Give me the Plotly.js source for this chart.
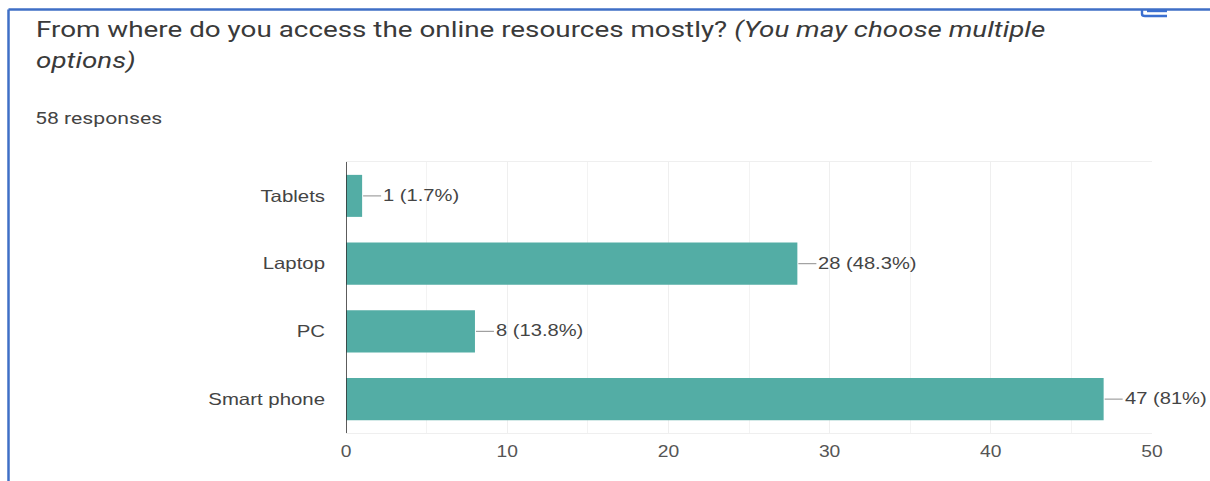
<!DOCTYPE html>
<html>
<head>
<meta charset="utf-8">
<script src="https://cdn.plot.ly/plotly-3.0.1.min.js"></script>
<style>
html,body{margin:0;padding:0;background:#fff;overflow:hidden}
#chart{width:1210px;height:481px}
/* Wide setting for the heading */
#chart .gtitle{transform:scaleX(1.265);transform-origin:36px 0}
</style>
</head>
<body>
<div id="chart"></div>
<script>
// Survey answers, listed bottom to top on the category axis
const devices = ['Smart phone', 'PC', 'Laptop', 'Tablets'];
const responses = [47, 8, 28, 1];
const valueLabels = ['47 (81%)', '8 (13.8%)', '28 (48.3%)', '1 (1.7%)'];
const axisTicks = [0, 10, 20, 30, 40, 50];

const W = 1210, H = 481;
const margin = {l: 346, r: 58, t: 162, b: 48};
const frameBlue = '#3f6fc6';
const textGrey = '#444444';
const labelFont = {family: 'Liberation Sans, Arial, sans-serif', size: 16.5, color: textGrey};

// Page-pixel helpers for the card frame, which sits outside the plot area
const px = x => (x - margin.l) / (W - margin.l - margin.r);
const py = y => 1 - (y - margin.t) / (H - margin.t - margin.b);

const bars = {
  type: 'bar',
  orientation: 'h',
  y: devices,
  x: responses,
  width: 0.62,
  marker: {color: '#53ada5', line: {width: 0}},
  hoverinfo: 'skip',
  cliponaxis: false
};

// Short leader from each bar end towards its value label
const leaders = responses.map((v, i) => ({
  type: 'line', xref: 'x', yref: 'y',
  xsizemode: 'pixel', xanchor: v, x0: 1, x1: 19,
  y0: devices[i], y1: devices[i],
  line: {color: '#a0a0a0', width: 1.2}
}));

const frame = [
  {type: 'line', xref: 'paper', yref: 'paper', x0: px(8.5), x1: px(W), y0: py(9.5), y1: py(9.5), line: {color: frameBlue, width: 2.5}},
  {type: 'line', xref: 'paper', yref: 'paper', x0: px(8.5), x1: px(8.5), y0: py(9.5), y1: py(H), line: {color: frameBlue, width: 2.5}},
  // Bottom of the cropped copy-chart icon
  {type: 'path', xref: 'paper', yref: 'paper',
   path: `M ${px(1142)} ${py(10)} L ${px(1142)} ${py(14)} Q ${px(1142)} ${py(16)} ${px(1145)} ${py(16)} L ${px(1167)} ${py(16)}`,
   line: {color: '#3b6fd0', width: 2.4}},
  {type: 'line', xref: 'paper', yref: 'paper', x0: px(1147), x1: px(1167), y0: py(11), y1: py(11), line: {color: '#3b6fd0', width: 2.4}}
];

const valueNotes = responses.map((v, i) => ({
  x: v, y: devices[i], xref: 'x', yref: 'y',
  text: valueLabels[i], showarrow: false,
  xanchor: 'left', yanchor: 'middle', xshift: 19, yshift: 1,
  font: labelFont
}));

const layout = {
  width: W, height: H,
  margin: margin,
  paper_bgcolor: '#ffffff',
  plot_bgcolor: '#ffffff',
  showlegend: false,
  bargap: 0.38,
  title: {
    text: 'From where do you access the online resources mostly? <i>(You may choose multiple<br>options)</i>',
    x: 36 / W, xref: 'container', xanchor: 'left',
    y: 1 - 37 / H, yref: 'container', yanchor: 'top',
    font: {family: 'Roboto, Arial, sans-serif', size: 22, color: '#3a3a3a'}
  },
  xaxis: {
    range: [0, 50],
    tickmode: 'array', tickvals: axisTicks, ticktext: axisTicks.map(String),
    ticks: '', ticklabelstandoff: 4,
    tickfont: {family: labelFont.family, size: 16, color: '#555555'},
    showgrid: true, gridcolor: '#efefef', gridwidth: 1,
    minor: {tickmode: 'linear', tick0: 0, dtick: 5, showgrid: true, gridcolor: '#f3f3f3', gridwidth: 1, ticks: ''},
    zeroline: false, showline: true, mirror: true, linecolor: '#efefef', linewidth: 1,
    fixedrange: true
  },
  yaxis: {
    type: 'category',
    categoryorder: 'array', categoryarray: devices,
    ticks: '', ticklabelstandoff: 20,
    tickfont: labelFont,
    showgrid: false, zeroline: false, showline: false,
    fixedrange: true
  },
  shapes: [
    // Dark baseline at zero, drawn above the bars
    {type: 'line', xref: 'x', yref: 'paper', x0: 0, x1: 0, y0: 0, y1: 1, line: {color: '#333333', width: 1.6}},
    ...leaders,
    ...frame
  ],
  annotations: [
    {xref: 'paper', yref: 'paper', x: px(33), y: py(118), text: '58 responses', showarrow: false,
     xanchor: 'left', yanchor: 'middle',
     font: {family: 'Roboto, Arial, sans-serif', size: 16.5, color: textGrey}},
    ...valueNotes
  ]
};

// Widen glyphs of a label by a given factor, keeping its anchor
function widen(el, factor) {
  const len = el.getComputedTextLength();
  el.setAttribute('lengthAdjust', 'spacingAndGlyphs');
  el.setAttribute('textLength', (len * factor).toFixed(1));
  return len;
}

Plotly.newPlot('chart', [bars], layout, {displayModeBar: false, staticPlot: true}).then(gd => {
  gd.querySelectorAll('.ytick text').forEach(t => widen(t, 1.235));
  gd.querySelectorAll('.xtick text').forEach(t => widen(t, 1.2));
  gd.querySelectorAll('.annotation-text').forEach(t => {
    const isCaption = t.textContent === '58 responses';
    const len = widen(t, isCaption ? 1.286 : 1.22);
    // Hold the left edge in place while the text grows rightwards
    t.setAttribute('text-anchor', 'start');
    t.setAttribute('x', parseFloat(t.getAttribute('x')) - len / 2);
  });
  // Open up the heading's line spacing a little
  const lines = gd.querySelectorAll('.gtitle tspan.line');
  if (lines.length > 1) {
    lines[1].setAttribute('y', parseFloat(lines[1].getAttribute('y')) + 2);
  }
});
</script>
</body>
</html>
